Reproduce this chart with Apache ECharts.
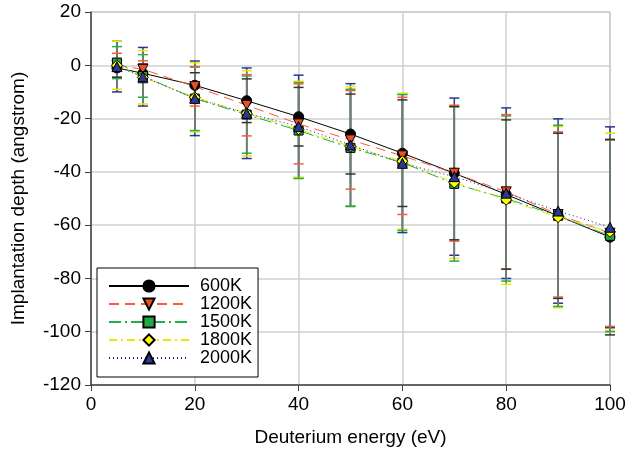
<!DOCTYPE html>
<html>
<head>
<meta charset="utf-8">
<script src="https://cdn.jsdelivr.net/npm/echarts@6/dist/echarts.min.js"></script>
<style>
  html, body { margin: 0; padding: 0; background: #fff; }
  #main { width: 629px; height: 452px; }
</style>
</head>
<body>
<div id="main"></div>
<script>
// deuterium energy (eV)
var energies = [5, 10, 20, 30, 40, 50, 60, 70, 80, 90, 100];

// implantation depth (angstrom) per temperature
var d600  = [-1, -3, -7.5, -13.3, -19.3, -25.8, -33, -40.5, -48.5, -56.5, -64.5];
var d1200 = [0, -1.5, -8, -15, -22, -28, -34, -40.5, -47.5, -56, -63];
var d1500 = [1, -4, -12.5, -18.5, -24.5, -31, -36.5, -44.5, -50, -56.5, -64];
var d1800 = [0, -4.5, -12, -18, -24, -30.5, -36, -44, -50.5, -57, -62.5];
var d2000 = [-0.5, -4.3, -12.4, -18, -23, -29.9, -36.8, -41.8, -48, -54.7, -60.8];

// error bar half lengths
var e600  = [3.5, 3.5, 4.7, 8.2, 11, 15, 20, 25, 28, 31, 36.7];
var e1200 = [4.5, 3.2, 7.3, 11.5, 15, 18.5, 22, 25.5, 29, 31, 35];
var e1500 = [6, 8, 12, 14.5, 18, 22, 25.5, 29, 31, 34, 36];
var e1800 = [9, 10, 13, 16, 18, 22.5, 25.5, 28.5, 31.7, 34, 37];
var e2000 = [9.5, 11, 14, 17, 19.3, 23, 26, 29.5, 32, 34.6, 37.7];

var fontFam = '"Liberation Sans", Arial, sans-serif';

function pairs(vals) {
    var out = [];
    for (var i = 0; i < energies.length; i++) out.push([energies[i], vals[i]]);
    return out;
}

function errData(vals, errs) {
    var out = [];
    for (var i = 0; i < energies.length; i++) out.push([energies[i], vals[i] - errs[i], vals[i] + errs[i]]);
    return out;
}

function errSeries(vals, errs, stemColor, capColor) {
    return {
        type: 'custom',
        silent: true,
        z: 1,
        data: errData(vals, errs),
        renderItem: function (params, api) {
            var lo = api.coord([api.value(0), api.value(1)]);
            var hi = api.coord([api.value(0), api.value(2)]);
            var w = 5;
            return {
                type: 'group',
                children: [
                    { type: 'line', shape: { x1: lo[0], y1: lo[1], x2: hi[0], y2: hi[1] }, style: { stroke: stemColor, lineWidth: 1.5 } },
                    { type: 'line', shape: { x1: lo[0] - w, y1: lo[1], x2: lo[0] + w, y2: lo[1] }, style: { stroke: capColor, lineWidth: 1.5 } },
                    { type: 'line', shape: { x1: hi[0] - w, y1: hi[1], x2: hi[0] + w, y2: hi[1] }, style: { stroke: capColor, lineWidth: 1.5 } }
                ]
            };
        }
    };
}

function lineSeries(name, vals, color, dash, symbol, fill, size) {
    return {
        name: name,
        type: 'line',
        z: 3,
        data: pairs(vals),
        symbol: symbol,
        symbolSize: size,
        showAllSymbol: true,
        lineStyle: { color: color, width: 1, type: dash },
        itemStyle: { color: fill, borderColor: '#000', borderWidth: 1 }
    };
}

var myChart = echarts.init(document.getElementById('main'));

var option = {
    animation: false,
    backgroundColor: '#fff',
    textStyle: { fontFamily: fontFam },
    grid: {
        left: 91, right: 19, top: 12, bottom: 67,
        show: true, borderColor: '#a0a0a0', borderWidth: 1
    },
    legend: {
        orient: 'vertical',
        left: 97, top: 268,
        padding: [9, 6, 10, 11],
        borderColor: '#000', borderWidth: 1,
        backgroundColor: '#fff',
        itemWidth: 80, itemHeight: 14, itemGap: 0,
        data: ['600K', '1200K', '1500K', '1800K', '2000K'],
        textStyle: { fontSize: 18, color: '#000', fontFamily: fontFam, lineHeight: 18, padding: [0, 0, 0, 6] }
    },
    xAxis: {
        type: 'value',
        min: 0, max: 100, interval: 20,
        name: 'Deuterium energy (eV)',
        nameLocation: 'middle',
        nameGap: 43,
        nameTextStyle: { fontSize: 19, color: '#000', fontFamily: fontFam },
        axisLine: { onZero: false, lineStyle: { color: '#404040', width: 1.5 } },
        axisTick: { show: true, length: 6, lineStyle: { color: '#404040' } },
        axisLabel: { fontSize: 19, color: '#000', margin: 10, fontFamily: fontFam },
        splitLine: { show: true, lineStyle: { color: '#d0d0d0', width: 1.5 } }
    },
    yAxis: {
        type: 'value',
        min: -120, max: 20, interval: 20,
        name: 'Implantation depth (angstrom)',
        nameLocation: 'middle',
        nameGap: 63,
        nameTextStyle: { fontSize: 19, color: '#000', fontFamily: fontFam },
        axisLine: { show: true, onZero: false, lineStyle: { color: '#404040', width: 1.5 } },
        axisTick: { show: true, length: 6, lineStyle: { color: '#404040' } },
        axisLabel: { fontSize: 19, color: '#000', margin: 10, fontFamily: fontFam },
        splitLine: { show: true, lineStyle: { color: '#d0d0d0', width: 1.5 } }
    },
    series: [
        errSeries(d2000, e2000, '#2a3590', '#2a3590'),
        errSeries(d1800, e1800, '#6f7d6f', '#e8e800'),
        errSeries(d1500, e1500, '#6f7d6f', '#22b04a'),
        errSeries(d1200, e1200, '#6f7d6f', '#ff5a36'),
        errSeries(d600, e600, '#6f7d6f', '#333333'),
        lineSeries('600K', d600, '#000000', 'solid', 'circle', '#000000', 10),
        lineSeries('1200K', d1200, '#ff5a36', [10, 6], 'triangle', '#ee4f22', 10),
        lineSeries('1500K', d1500, '#22b04a', [12, 4, 2, 4], 'rect', '#22aa44', 9),
        lineSeries('1800K', d1800, '#e8e800', [8, 4, 2, 4], 'diamond', '#ffff00', 11),
        lineSeries('2000K', d2000, '#1a237e', [1, 3], 'triangle', '#2b3894', 10)
    ]
};

// 1200K uses a downward triangle
option.series[6].symbolRotate = 180;

myChart.setOption(option);
</script>
</body>
</html>
